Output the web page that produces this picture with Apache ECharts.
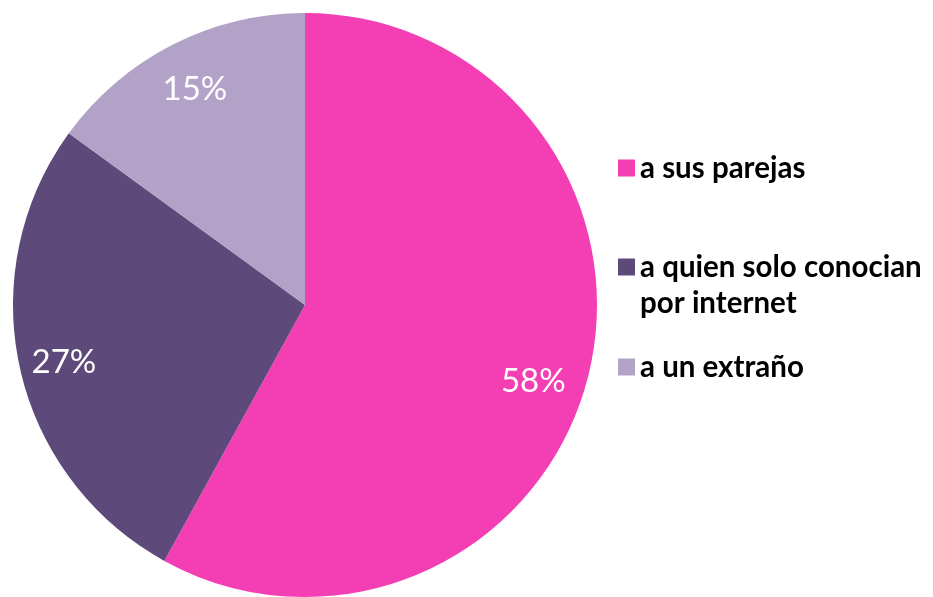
<!DOCTYPE html>
<html>
<head>
<meta charset="utf-8">
<script src="https://cdn.jsdelivr.net/npm/echarts@6/dist/echarts.min.js"></script>
<style>
  html, body { margin: 0; padding: 0; background: #ffffff; }
  #chart { width: 933px; height: 597px; }
</style>
</head>
<body>
<div id="chart"></div>
<script>
// Who the respondents sent the content to
const categories = ['a sus parejas', 'a quien solo conocian', 'a un extraño'];
const values = [58, 27, 15];
const colors = ['#F33EB4', '#5E4A7A', '#B3A2C8'];
// fine placement of each percentage label, in pixels
const labelOffsets = [[-11, 15], [0, 3], [2, 4]];

const FONT = 'Lato, "Open Sans", sans-serif';
const pieData = categories.map((name, i) => ({
  name: name,
  value: values[i],
  itemStyle: { color: colors[i] }
}));

const legendTops = [148, 247, 347];
const legendText = {
  fontFamily: FONT,
  fontWeight: 'bold',
  fontSize: 29.5,
  color: '#000000'
};

const chart = echarts.init(document.getElementById('chart'), null, { renderer: 'canvas' });
chart.setOption({
  backgroundColor: '#ffffff',
  animation: false,
  legend: categories.map((name, i) => ({
    data: [name],
    left: 613,
    top: legendTops[i],
    orient: 'vertical',
    icon: 'rect',
    itemWidth: 17,
    itemHeight: 17,
    itemGap: 10,
    selectedMode: false,
    textStyle: legendText
  })),
  graphic: [{
    type: 'text',
    left: 640,
    top: 288,
    style: {
      text: 'por internet',
      fill: '#000000',
      font: 'bold 29.5px ' + FONT
    }
  }],
  series: [
    {
      type: 'pie',
      center: [305, 305],
      radius: [0, 292],
      startAngle: 90,
      clockwise: true,
      silent: true,
      label: { show: false },
      labelLine: { show: false },
      itemStyle: { borderWidth: 0 },
      data: pieData
    },
    {
      // label ring: places the percentages part-way out along each slice
      type: 'pie',
      center: [305, 305],
      radius: [196, 292],
      startAngle: 90,
      clockwise: true,
      silent: true,
      itemStyle: { color: 'rgba(0,0,0,0)', borderWidth: 0 },
      label: {
        show: true,
        position: 'inside',
        formatter: p => p.value + '%',
        color: '#ffffff',
        fontFamily: FONT,
        fontSize: 33
      },
      labelLine: { show: false },
      data: categories.map((name, i) => ({
        name: name,
        value: values[i],
        label: { offset: labelOffsets[i] }
      }))
    }
  ]
});
</script>
</body>
</html>
